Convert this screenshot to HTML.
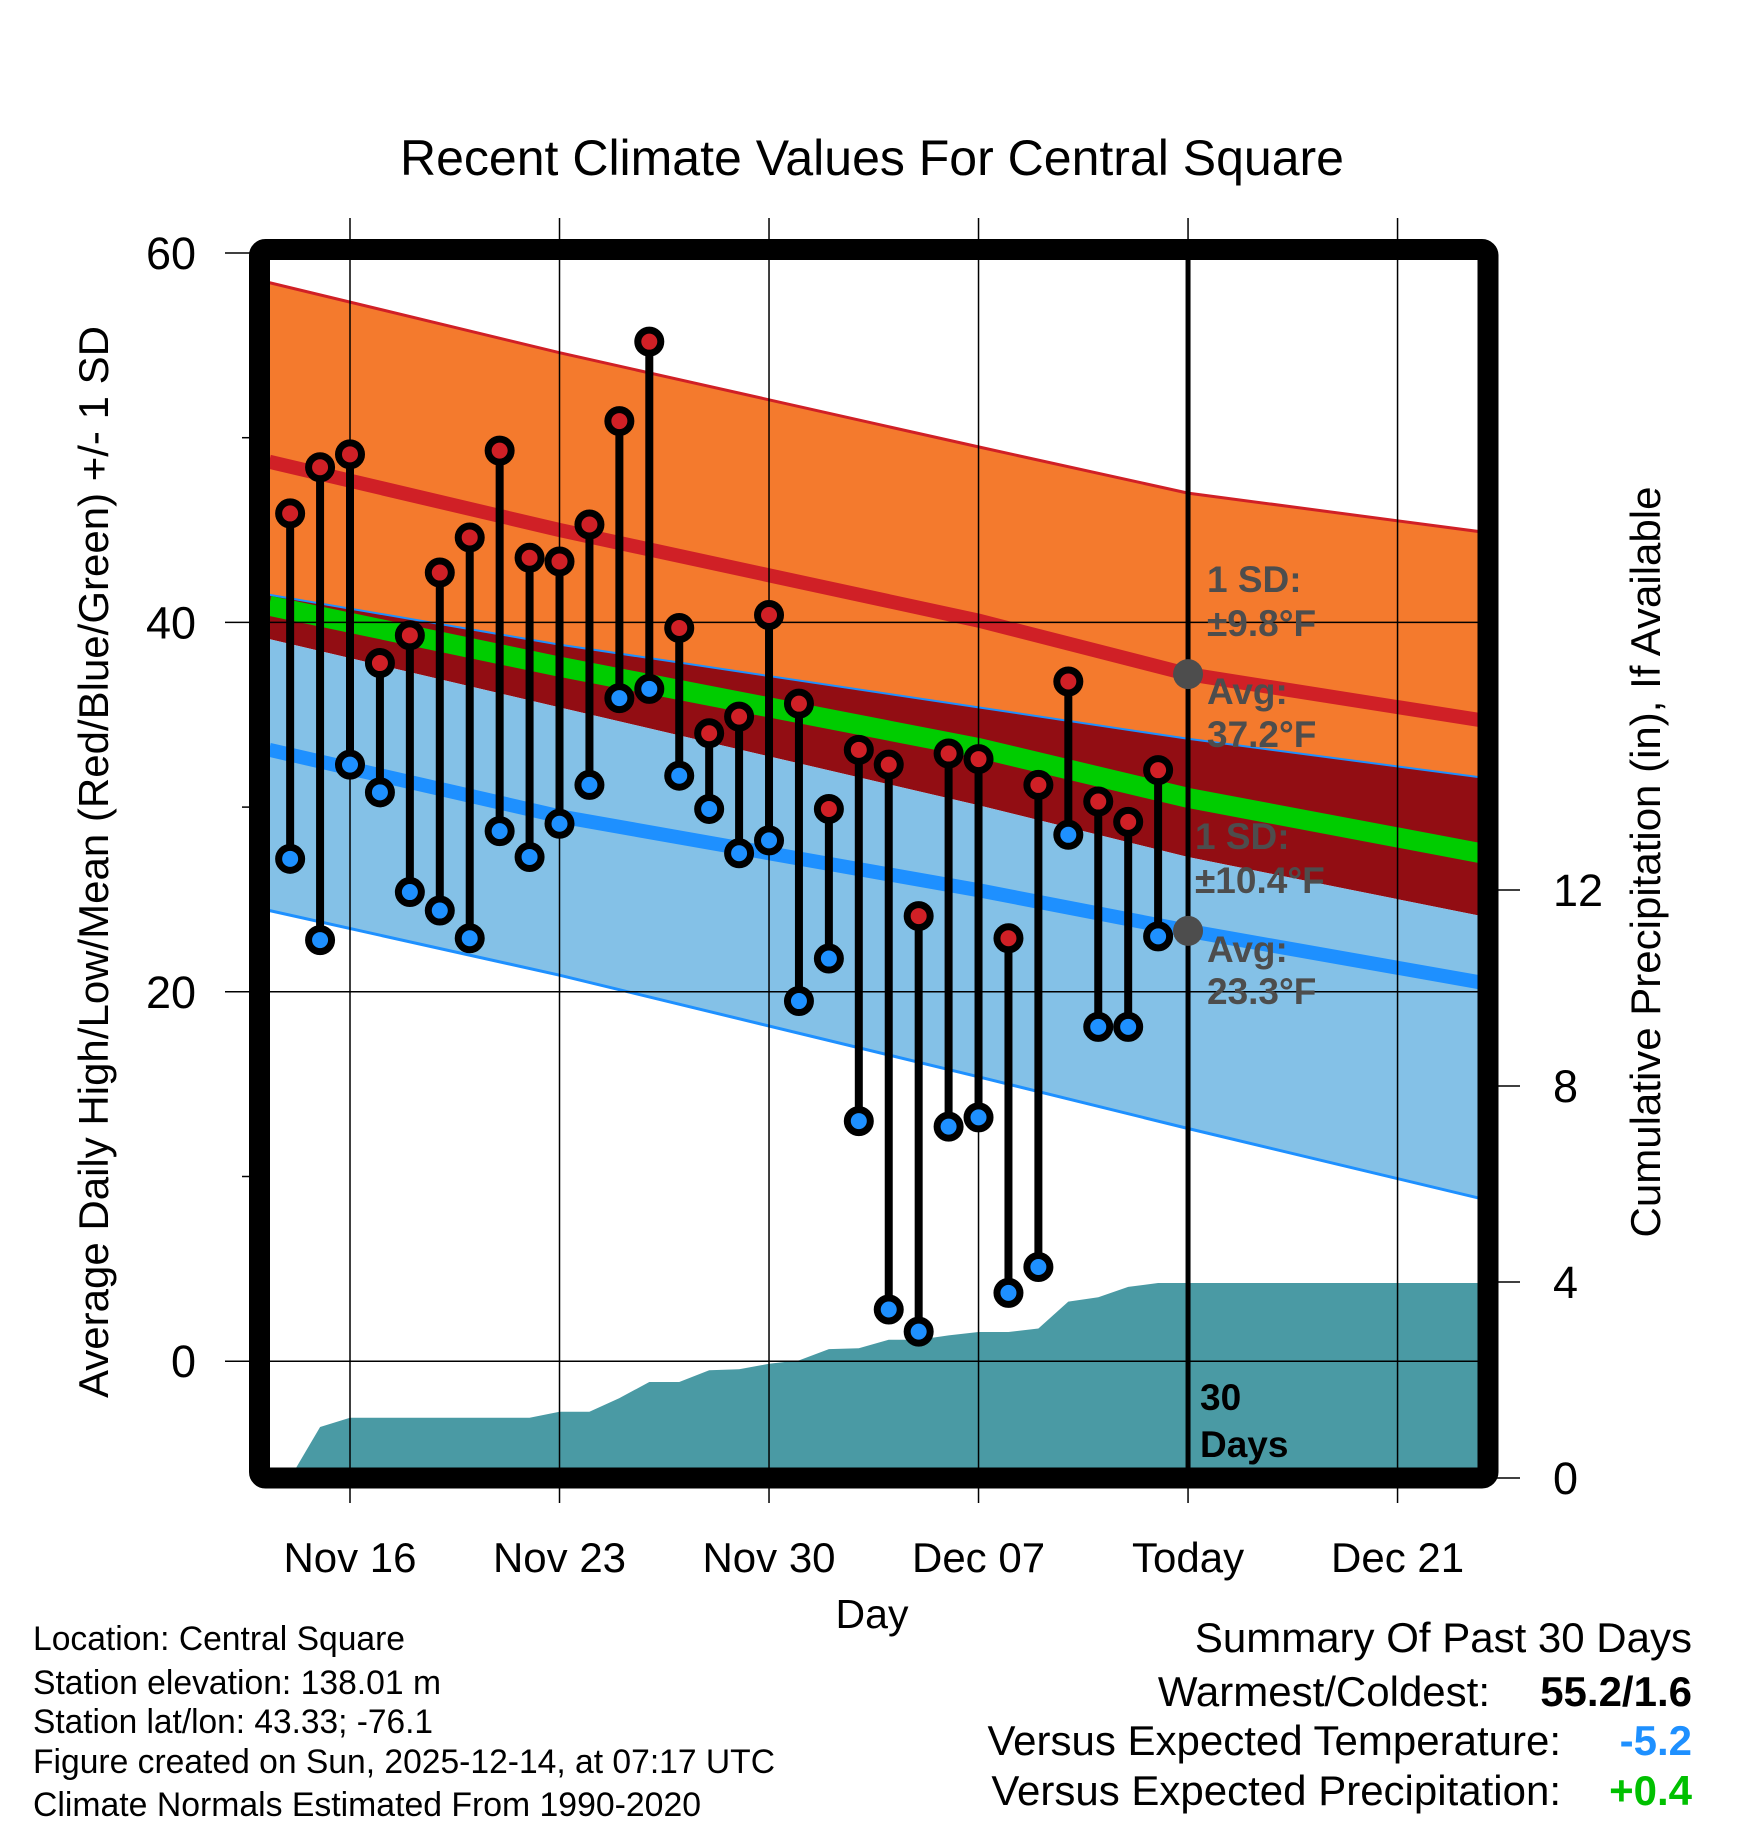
<!DOCTYPE html>
<html><head><meta charset="utf-8"><style>
html,body{margin:0;padding:0;background:#fff;}
svg{display:block;font-family:"Liberation Sans",Arial,sans-serif;}
</style></head><body>
<svg id="chart" width="1748" height="1828" viewBox="0 0 1748 1828" xmlns="http://www.w3.org/2000/svg">
<text x="872" y="175" font-size="50" text-anchor="middle">Recent Climate Values For Central Square</text>
<g id="plot"></g>
<text transform="translate(108,862) rotate(-90)" font-size="42" text-anchor="middle">Average Daily High/Low/Mean (Red/Blue/Green) +/- 1 SD</text>
<text transform="translate(1660,862) rotate(-90)" font-size="42" text-anchor="middle">Cumulative Precipitation (in), If Available</text>
<text x="872" y="1628" font-size="41" text-anchor="middle">Day</text>
<g font-size="34">
<text x="33" y="1650" textLength="372" lengthAdjust="spacingAndGlyphs">Location: Central Square</text>
<text x="33" y="1694" textLength="408" lengthAdjust="spacingAndGlyphs">Station elevation: 138.01 m</text>
<text x="33" y="1733" textLength="400" lengthAdjust="spacingAndGlyphs">Station lat/lon: 43.33; -76.1</text>
<text x="33" y="1773" textLength="742" lengthAdjust="spacingAndGlyphs">Figure created on Sun, 2025-12-14, at 07:17 UTC</text>
<text x="33" y="1816" textLength="668" lengthAdjust="spacingAndGlyphs">Climate Normals Estimated From 1990-2020</text>
</g>
<g font-size="42">
<text x="1692" y="1652" text-anchor="end">Summary Of Past 30 Days</text>
<text x="1490" y="1706" text-anchor="end">Warmest/Coldest:</text>
<text x="1692" y="1706" text-anchor="end" font-weight="bold">55.2/1.6</text>
<text x="1561" y="1755" text-anchor="end">Versus Expected Temperature:</text>
<text x="1692" y="1755" text-anchor="end" font-weight="bold" fill="#1e90ff">-5.2</text>
<text x="1561" y="1805" text-anchor="end">Versus Expected Precipitation:</text>
<text x="1692" y="1805" text-anchor="end" font-weight="bold" fill="#00c000">+0.4</text>
</g>
</svg>
<script>
// Observations: days Nov 14 .. Dec 13 (offset from Nov 16)
const obsDays = [-2,-1,0,1,2,3,4,5,6,7,8,9,10,11,12,13,14,15,16,17,18,19,20,21,22,23,24,25,26,27];
const highs = [45.9,48.4,49.1,37.8,39.3,42.7,44.6,49.3,43.5,43.3,45.3,50.9,55.2,39.7,34.0,34.9,40.4,35.6,29.9,33.1,32.3,24.1,32.9,32.6,22.9,31.2,36.8,30.3,29.2,32.0];
const lows = [27.2,22.8,32.3,30.8,25.4,24.4,22.9,28.7,27.3,29.1,31.2,35.9,36.4,31.7,29.9,27.5,28.2,19.5,21.8,13.0,2.8,1.6,12.7,13.2,3.7,5.1,28.5,18.1,18.1,23.0];
// Normals sampled at days (offset from Nov 16)
const normDays = [-2.7,7,21,28,37.8];
const hiTop = [58.4,54.6,49.5,47.0,44.9];
const hiMean = [48.7,45.0,40.1,37.2,34.7];
const hiBot = [41.5,38.8,35.4,33.7,31.6];
const avgMean = [40.9,37.6,33.2,30.5,27.5];
const loTop = [39.1,35.4,30.1,27.3,24.1];
const loMean = [33.1,29.5,25.5,23.3,20.5];
const loBot = [24.4,20.9,15.4,12.6,8.8];
// Cumulative precipitation, days Nov 14 .. Dec 14
const precipDays = [-2,-1,0,1,2,3,4,5,6,7,8,9,10,11,12,13,14,15,16,17,18,19,20,21,22,23,24,25,26,27,28];
const precip = [0,1.04,1.23,1.23,1.23,1.23,1.23,1.23,1.23,1.35,1.35,1.63,1.96,1.96,2.2,2.22,2.33,2.4,2.63,2.65,2.82,2.82,2.91,2.98,2.98,3.05,3.6,3.69,3.9,3.98,3.98];
const xTickDays = [0,7,14,21,28,35];
const xTickLabels = ["Nov 16","Nov 23","Nov 30","Dec 07","Today","Dec 21"];
const yTicks = [0,20,40,60];
const yMinor = [10,30,50];
const y2Ticks = [0,4,8,12];

const NS="http://www.w3.org/2000/svg";
const L=270,R=1478,T=260,B=1468;
const X=d=>350+d*29.93;
const Y=t=>253+(60-t)*18.47;
const YP=p=>1478-p*49;
const g=document.getElementById('plot');
function el(tag,attrs,parent){const e=document.createElementNS(NS,tag);for(const k in attrs)e.setAttribute(k,attrs[k]);(parent||g).appendChild(e);return e;}
function line(arr){return normDays.map((d,i)=>[X(d),Y(arr[i])]);}
function pts(a){return a.map(p=>p[0].toFixed(1)+','+p[1].toFixed(1)).join(' ');}
function band(top,bot){return pts(line(top).concat(line(bot).reverse()));}

const defs=el('defs',{});
const cp=el('clipPath',{id:'clip'},defs);el('rect',{x:L,y:T,width:R-L,height:B-T},cp);
const cg=el('g',{'clip-path':'url(#clip)'});

let e;
e=el('polygon',{points:band(hiTop,hiBot),fill:'#f47a2d'},cg);

e=el('polygon',{points:band(hiBot,loTop),fill:'#920d13'},cg);

e=el('polygon',{points:band(loTop,loBot),fill:'#84c1e7'},cg);

e=el('polyline',{points:pts(line(hiTop)),fill:'none',stroke:'#d02026','stroke-width':3},cg);

e=el('polyline',{points:pts(line(hiBot)),fill:'none',stroke:'#1e90ff','stroke-width':2},cg);

e=el('polyline',{points:pts(line(loBot)),fill:'none',stroke:'#1e90ff','stroke-width':3},cg);

e=el('polyline',{points:pts(line(hiMean)),fill:'none',stroke:'#d02026','stroke-width':14},cg);

e=el('polyline',{points:pts(line(avgMean)),fill:'none',stroke:'#00cc00','stroke-width':20},cg);

e=el('polyline',{points:pts(line(loMean)),fill:'none',stroke:'#1e90ff','stroke-width':14},cg);


// precip area
const pp=precipDays.map((d,i)=>[X(d),YP(precip[i])]);
pp.push([R,YP(precip[precip.length-1])]);pp.push([R,YP(0)]);pp.push([X(precipDays[0]),YP(0)]);
e=el('polygon',{points:pts(pp),fill:'#4a9aa4'},cg);


// grid
xTickDays.forEach(d=>{e=el('line',{x1:X(d),x2:X(d),y1:218,y2:1503,stroke:'#000','stroke-width':1.5});
});
yTicks.forEach(t=>{e=el('line',{x1:225,x2:R,y1:Y(t),y2:Y(t),stroke:'#000','stroke-width':1.5});

e=el('text',{x:196,y:Y(t)+16,'font-size':45,'text-anchor':'end'});e.textContent=t;
});
yMinor.forEach(t=>{e=el('line',{x1:242,x2:252,y1:Y(t),y2:Y(t),stroke:'#000','stroke-width':1.5});
});
y2Ticks.forEach(p=>{e=el('line',{x1:1490,x2:1520,y1:YP(p),y2:YP(p),stroke:'#000','stroke-width':1.5});

e=el('text',{x:1553,y:YP(p)+16,'font-size':45});e.textContent=p;
});
xTickDays.forEach((d,i)=>{e=el('text',{x:X(d),y:1572,'font-size':42,'text-anchor':'middle'});e.textContent=xTickLabels[i];
});

// today line
e=el('line',{x1:X(28),x2:X(28),y1:T,y2:B,stroke:'#000','stroke-width':5});


// observations
obsDays.forEach((d,i)=>{
 const x=X(d);
 e=el('line',{x1:x,x2:x,y1:Y(highs[i]),y2:Y(lows[i]),stroke:'#000','stroke-width':8});
 
});
obsDays.forEach((d,i)=>{
 const x=X(d);
 e=el('circle',{cx:x,cy:Y(highs[i]),r:11.5,fill:'#d02026',stroke:'#000','stroke-width':7});
 
 e=el('circle',{cx:x,cy:Y(lows[i]),r:11.5,fill:'#1e90ff',stroke:'#000','stroke-width':7});
 
});

// today normal dots
e=el('circle',{cx:X(28),cy:Y(hiMean[3]),r:15,fill:'#4d4d4d'});

e=el('circle',{cx:X(28),cy:Y(loMean[3]),r:15,fill:'#4d4d4d'});


// annotations
const ann=[[1207,592,'1 SD:'],[1207,636,'±9.8°F'],[1207,704,'Avg:'],[1207,747,'37.2°F'],
[1195,849,'1 SD:'],[1195,893,'±10.4°F'],[1207,962,'Avg:'],[1207,1004,'23.3°F']];
ann.forEach(a=>{e=el('text',{x:a[0],y:a[1],'font-size':37,'font-weight':'bold',fill:'#4d4d4d'});e.textContent=a[2];
});
e=el('text',{x:1200,y:1410,'font-size':37,'font-weight':'bold'});e.textContent='30';

e=el('text',{x:1200,y:1457,'font-size':37,'font-weight':'bold'});e.textContent='Days';


// frame
e=el('rect',{x:259.5,y:249.5,width:1228.5,height:1228.5,fill:'none',stroke:'#000','stroke-width':21,rx:6});

</script>
</body></html>
